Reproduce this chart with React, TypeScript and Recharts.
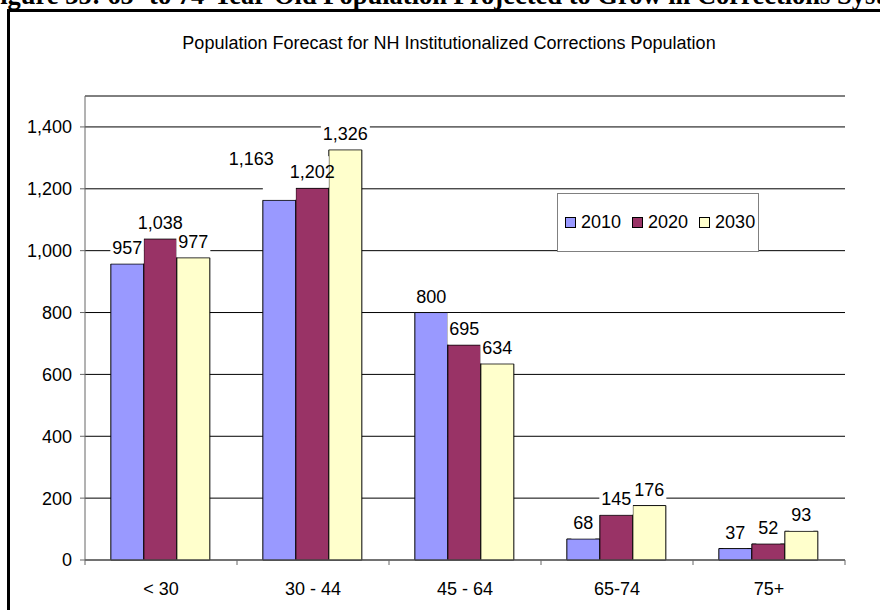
import React from "react";
import { BarChart, Bar, XAxis, YAxis, CartesianGrid, LabelList } from "recharts";

const categories = ["< 30", "30 - 44", "45 - 64", "65-74", "75+"];
const years = ["2010", "2020", "2030"];
const pop2010 = [957, 1163, 800, 68, 37];
const pop2020 = [1038, 1202, 695, 145, 52];
const pop2030 = [977, 1326, 634, 176, 93];
const yTicks = [0, 200, 400, 600, 800, 1000, 1200, 1400];
const colors = ["#9999FF", "#993366", "#FFFFCC"];

const caption =
  "Figure 35: 65- to 74-Year-Old Population Projected to Grow in Corrections System";
const title = "Population Forecast for NH Institutionalized Corrections Population";

const seriesValues = [pop2010, pop2020, pop2030];
const rows = categories.map((cat, i) => ({
  cat,
  y2010: pop2010[i],
  y2020: pop2020[i],
  y2030: pop2030[i],
}));

const FONT = "Arial, 'Liberation Sans', sans-serif";
const fmt = (v: number) => Number(v).toLocaleString("en-US");

// rough text width for 18px Arial digits / commas
const textW = (s: string) =>
  s.split("").reduce((w, ch) => w + (ch === "," ? 5 : 10), 0);

// where a value label sits, given its bar
function labelGeom(s: number, index: number, barX: number, barTop: number, width: number) {
  // Excel pushed this one up and to the left to avoid its neighbour
  const lifted = s === 0 && categories[index] === "30 - 44";
  const text = fmt(seriesValues[s][index]);
  return {
    text,
    lifted,
    cx: barX + width / 2 + (lifted ? -28 : 0),
    base: barTop - 10 - (lifted ? 25 : 0),
    tw: textW(text),
  };
}

function makeLabel(s: number) {
  return (p: any) => {
    const vb = p.viewBox ?? p;
    const x = Number(vb.x ?? p.x);
    const y = Number(vb.y ?? p.y);
    const width = Number(vb.width ?? p.width);
    const height = Number(vb.height ?? p.height);
    const index = p.index;
    const g = labelGeom(s, index, x, y, width);

    const left = g.cx - g.tw / 2 - 2;
    let right = g.cx + g.tw / 2 + 2;
    if (s < years.length - 1) right = Math.min(right, x + width);
    let top = g.base - 22;
    const bottom = g.lifted ? g.base + 3 : y - 0.5;

    // keep the white box off the text of the previous series' label
    if (s > 0) {
      const pxPer = height / seriesValues[s][index];
      const prevTop = y + height - seriesValues[s - 1][index] * pxPer;
      const pg = labelGeom(s - 1, index, x - width, prevTop, width);
      const pl = pg.cx - pg.tw / 2;
      const pr = pg.cx + pg.tw / 2;
      if (right > pl && left < pr && top < pg.base + 2 && bottom > pg.base - 14) {
        top = pg.base + 2;
      }
    }

    return (
      <g>
        {bottom > top && (
          <rect x={left} y={top} width={right - left} height={bottom - top} fill="#fff" />
        )}
        {g.lifted && (
          <rect x={x} y={g.base} width={width} height={y - g.base - 0.5} fill="#fff" />
        )}
        <text
          x={g.cx}
          y={g.base}
          textAnchor="middle"
          fontFamily={FONT}
          fontSize={18}
          fill="#000"
        >
          {g.text}
        </text>
      </g>
    );
  };
}

function CatTick(p: any) {
  const { x, y, payload, index } = p;
  const half = payload?.offset ?? 76;
  const last = index === categories.length - 1;
  return (
    <g>
      <line x1={x - half} x2={x - half} y1={y} y2={y + 5} stroke="#666" />
      {last && <line x1={x + half} x2={x + half} y1={y} y2={y + 5} stroke="#666" />}
      <text
        x={x}
        y={y + 22}
        dy="0.71em"
        textAnchor="middle"
        fontFamily={FONT}
        fontSize={18}
        fill="#000"
      >
        {payload.value}
      </text>
    </g>
  );
}

export default function App() {
  const series = [
    { key: "y2010", name: years[0] },
    { key: "y2020", name: years[1] },
    { key: "y2030", name: years[2] },
  ];
  return (
    <div
      style={{
        position: "absolute",
        left: 0,
        top: 0,
        width: 880,
        height: 610,
        overflow: "hidden",
        background: "#fff",
      }}
    >
      <div
        style={{
          position: "absolute",
          left: -16,
          top: -18,
          whiteSpace: "nowrap",
          fontFamily: "'Liberation Serif', 'Times New Roman', serif",
          fontWeight: "bold",
          fontSize: 26.5,
          lineHeight: "26px",
        }}
      >
        {caption}
      </div>
      <div
        style={{
          position: "absolute",
          left: 7,
          top: 9,
          width: 900,
          height: 700,
          border: "3px solid #000",
        }}
      />
      <div style={{ position: "absolute", left: 0, top: 0 }}>
        <BarChart
          width={880}
          height={610}
          data={rows}
          margin={{ top: 96, right: 35, bottom: 0, left: 0 }}
          barCategoryGap="17%"
          barGap={0}
        >
          <CartesianGrid vertical={false} stroke="#000" />
          <XAxis
            dataKey="cat"
            height={50}
            tickLine={false}
            tickSize={0}
            tickMargin={0}
            axisLine={{ stroke: "#666" }}
            tick={<CatTick />}
            interval={0}
          />
          <XAxis
            xAxisId="top"
            orientation="top"
            dataKey="cat"
            height={0}
            tick={false}
            tickLine={false}
            axisLine={{ stroke: "#a0a0a0" }}
          />
          <YAxis
            width={85}
            domain={[0, 1500]}
            ticks={yTicks}
            tickSize={5}
            tickMargin={8}
            tickFormatter={fmt}
            axisLine={{ stroke: "#666" }}
            tickLine={{ stroke: "#666" }}
            tick={{ fill: "#000", fontFamily: FONT, fontSize: 18 }}
          />
          <YAxis
            yAxisId="right"
            orientation="right"
            width={0}
            domain={[0, 1500]}
            tick={false}
            tickLine={false}
            axisLine={{ stroke: "#a0a0a0" }}
          />
          {series.map((s, i) => (
            <Bar
              key={s.key}
              dataKey={s.key}
              name={s.name}
              fill={colors[i]}
              stroke="#000"
              strokeWidth={1}
              isAnimationActive={false}
            >
              <LabelList dataKey={s.key} content={makeLabel(i)} />
            </Bar>
          ))}
        </BarChart>
      </div>
      <div
        style={{
          position: "absolute",
          left: 9,
          width: 880,
          top: 34,
          textAlign: "center",
          fontFamily: FONT,
          fontSize: 18,
          lineHeight: "18px",
          whiteSpace: "nowrap",
        }}
      >
        {title}
      </div>
      <div
        style={{
          position: "absolute",
          left: 557,
          top: 193,
          width: 202,
          height: 59,
          boxSizing: "border-box",
          border: "1px solid #808080",
          background: "#fff",
          display: "flex",
          alignItems: "center",
          paddingLeft: 7,
          fontFamily: FONT,
          fontSize: 18,
        }}
      >
        {years.map((yr, i) => (
          <div
            key={yr}
            style={{ display: "flex", alignItems: "center", marginRight: 11 }}
          >
            <span
              style={{
                display: "inline-block",
                width: 9,
                height: 9,
                border: "1px solid #000",
                background: colors[i],
                marginRight: 5,
              }}
            />
            <span>{yr}</span>
          </div>
        ))}
      </div>
    </div>
  );
}
